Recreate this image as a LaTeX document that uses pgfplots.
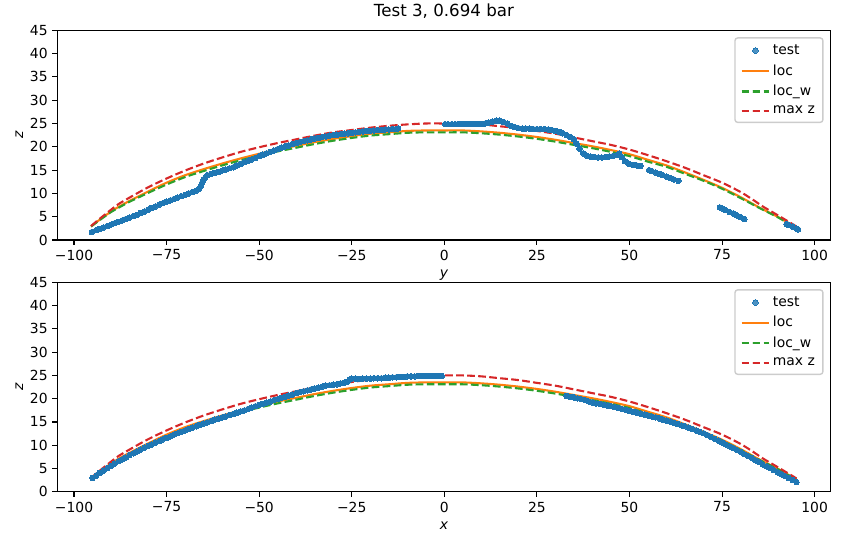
\documentclass[border=0pt]{standalone}
\usepackage{fontspec}
\setmainfont{DejaVu Sans}
\usepackage{pgfplots}
\usepackage{pgfplotstable}
\pgfplotsset{compat=1.18}
\definecolor{c0}{HTML}{1F77B4}
\definecolor{c1}{HTML}{FF7F0E}
\definecolor{c2}{HTML}{2CA02C}
\definecolor{c3}{HTML}{D62728}

\pgfplotstableread{
x z
-95.4 3.0
-93 4.6
-90 6.5
-88 7.7
-85 9.1
-80 11.3
-75 13.2
-70 14.9
-65 16.4
-60 17.7
-55 18.9
-50 19.9
-45 20.8
-40 21.6
-35 22.4
-30 23.1
-25 23.6
-20 24.1
-15 24.5
-10 24.8
-5 25.0
0 25.0
5 25.0
10 24.8
15 24.4
20 24.0
25 23.4
30 22.8
35 22.0
40 21.2
45 20.4
50 19.4
55 18.2
60 16.9
65 15.5
70 13.9
75 12.3
80 10.3
83.4 8.6
86 7.2
89 5.8
92.4 4.2
95.1 2.9
}\maxz

\pgfplotstableread{
x z
-95.4 2.9
-93 4.4
-90 6.1
-88 7.1
-85 8.4
-80 10.4
-75 12.3
-70 13.9
-65 15.2
-60 16.4
-55 17.5
-50 18.5
-45 19.4
-40 20.2
-35 21.0
-30 21.7
-25 22.3
-20 22.8
-15 23.1
-10 23.4
-5 23.5
0 23.5
5 23.5
10 23.3
15 23.0
20 22.6
25 22.1
30 21.5
35 20.8
40 20.1
45 19.3
50 18.4
55 17.2
60 16.0
65 14.5
70 12.9
75 11.2
80 9.2
85 7.0
90 5.0
92.4 3.9
95.1 2.7
}\loc

\pgfplotstableread{
x z
-95.4 2.9
-93 4.3
-90 6.0
-88 6.9
-85 8.2
-80 10.1
-75 11.9
-70 13.5
-65 14.8
-60 16.0
-55 17.1
-50 18.1
-45 19.0
-40 19.8
-35 20.6
-30 21.3
-25 21.9
-20 22.4
-15 22.7
-10 23.0
-5 23.1
0 23.1
5 23.1
10 22.9
15 22.6
20 22.2
25 21.7
30 21.1
35 20.4
40 19.7
45 18.9
50 18.0
55 16.8
60 15.7
65 14.2
70 12.7
75 11.0
80 9.0
85 6.9
90 4.9
92.4 3.8
95.1 2.7
}\locw

\pgfplotstableread{
x z
-95.2 1.7
-94 2.1
-93 2.4
-92 2.7
-91 3.0
-90 3.3
-89 3.6
-88 3.9
-87 4.2
-86 4.5
-85 4.8
-84 5.1
-83 5.4
-82 5.8
-81 6.1
-80 6.5
-79 6.9
-78 7.2
-77 7.6
-76 7.9
-75 8.2
-74 8.5
-73 8.8
-72 9.1
-71 9.4
-70 9.7
-69 10.0
-68 10.3
-67 10.6
-66.3 10.9
-65.8 11.5
-65.4 12.3
-65.0 12.9
-64.5 13.5
-64 13.9
-63 14.2
-62 14.4
-61 14.6
-60 14.9
-59 15.1
-58 15.4
-57 15.6
-56 16.0
-55 16.3
-54 16.7
-53 17.0
-52 17.3
-51 17.6
-50 18.0
-49 18.3
-48 18.6
-47 18.9
-46 19.2
-45 19.5
-44 19.8
-43 20.1
-42 20.3
-41 20.6
-40 20.8
-39 21.0
-38 21.2
-37 21.4
-36 21.6
-35 21.8
-34 21.9
-33 22.1
-32 22.2
-31 22.4
-30 22.5
-29 22.6
-28 22.7
-27 22.8
-26 22.9
-25 23.0
-24 23.1
-23 23.2
-22 23.3
-21 23.4
-20 23.4
-19 23.5
-18 23.6
-17 23.6
-16 23.7
-15 23.7
-14 23.8
-13 23.8
-12.5 23.9
0.2 24.85
1 24.85
2 24.85
3 24.85
4 24.9
5 24.9
6 24.9
7 24.9
8 24.9
9 24.9
10 24.9
11 25.0
12 25.2
13 25.4
14 25.6
15 25.6
16 25.3
17 25.0
18 24.5
19 24.2
20 24.0
21 23.9
22 23.9
23 23.9
24 23.8
25 23.8
26 23.8
27 23.8
28 23.7
29 23.6
30 23.4
31 23.2
32 22.9
33 22.5
34 22.1
35 21.6
35.7 20.7
36.5 19.6
37.5 18.6
38.5 18.1
39.5 17.9
40.5 17.8
41.5 17.7
42.5 17.7
43.5 17.8
44.5 17.9
45.5 18.0
46.5 18.2
47.2 18.5
47.9 17.8
48.8 16.9
49.7 16.4
51 16.1
52 16.0
53 15.9
55.3 15.0
56 14.8
57 14.5
58 14.2
59 13.9
60 13.6
61 13.3
62 13.0
63.2 12.7
74.4 7.0
75 6.8
76 6.4
77 6.0
78 5.7
79 5.3
80 4.9
81 4.5
92.4 3.4
93 3.2
94 2.9
95 2.5
95.5 2.3
}\testtop

\pgfplotstableread{
x z
-95.0 3.0
-94 3.5
-93 4.1
-92 4.6
-91 5.1
-90 5.6
-89 6.1
-88 6.6
-87 7.0
-86 7.4
-85 7.9
-84 8.3
-83 8.7
-82 9.1
-81 9.5
-80 9.9
-79 10.2
-78 10.6
-77 10.9
-76 11.3
-75 11.6
-74 11.9
-73 12.3
-72 12.6
-71 12.9
-70 13.2
-69 13.5
-68 13.8
-67 14.1
-66 14.4
-65 14.7
-64 14.9
-63 15.2
-62 15.5
-61 15.7
-60 16.0
-59 16.2
-58 16.5
-57 16.7
-56 17.0
-55 17.3
-54 17.5
-53 17.8
-52 18.1
-51 18.4
-50 18.7
-49 18.9
-48 19.2
-47 19.4
-46 19.7
-45 19.9
-44 20.2
-43 20.4
-42 20.7
-41 20.9
-40 21.2
-39 21.4
-38 21.6
-37 21.8
-36 22.0
-35 22.2
-34 22.4
-33 22.6
-32 22.8
-31 22.9
-30 23.0
-29 23.1
-28 23.3
-27 23.4
-26.3 23.6
-25.6 24.1
-25 24.3
-24 24.3
-23 24.2
-22 24.3
-21 24.3
-20 24.3
-19 24.4
-18 24.4
-17 24.4
-16 24.5
-15 24.5
-14 24.6
-13 24.6
-12 24.7
-11 24.7
-10 24.8
-9 24.8
-8 24.8
-7 24.9
-6 24.9
-5 24.9
-4 24.9
-3 24.9
-2 24.9
-1 24.9
-0.7 24.9
33 20.6
34 20.4
35 20.3
36 20.1
37 19.9
38 19.7
39 19.4
40 19.2
41 19.0
42 18.9
43 18.7
44 18.5
45 18.4
46 18.2
47 18.0
48 17.8
49 17.6
50 17.4
51 17.2
52 17.0
53 16.8
54 16.6
55 16.4
56 16.2
57 16.0
58 15.8
59 15.5
60 15.3
61 15.1
62 14.8
63 14.6
64 14.3
65 14.1
66 13.8
67 13.5
68 13.2
69 12.9
70 12.6
71 12.2
72 11.8
73 11.4
74 11.0
75 10.6
76 10.2
77 9.8
78 9.4
79 9.0
80 8.6
81 8.1
82 7.7
83 7.3
84 6.8
85 6.4
86 5.9
87 5.5
88 5.1
89 4.7
90 4.2
91 3.8
92 3.4
93 3.0
94 2.6
95.1 2.1
}\testbot

\pgfplotsset{
  myaxis/.style={
    scale only axis,
    width=556.7pt, height=151pt,
    xmin=-104.5, xmax=104.3,
    ymin=0, ymax=45,
    xtick={-100,-75,-50,-25,0,25,50,75,100},
    xticklabels={−100,−75,−50,−25,0,25,50,75,100},
    ytick={0,5,10,15,20,25,30,35,40,45},
    /pgf/number format/assume math mode=true,
    tick label style={font=\fontsize{10}{12}\selectfont},
    label style={font=\fontsize{10}{12}\selectfont},
    ylabel style={yshift=-2pt},
    tick align=outside, tick pos=left,
    major tick length=3.5pt,
    every tick/.style={black, line width=0.8pt},
    axis line style={line width=0.8pt},
    legend cell align=left,
    legend style={at={(1,1)}, anchor=north east, xshift=-5pt, yshift=-5pt,
      draw=black!20, line width=1pt, fill=white, fill opacity=0.8, text opacity=1,
      rounded corners=2pt, font=\fontsize{10}{11}\selectfont,
      inner xsep=4pt, inner ysep=3pt, row sep=2.2pt,
      nodes={inner sep=1.8pt}},
    legend image code/.code={\draw[mark repeat=2,mark phase=2,##1] plot coordinates {(0pt,0pt)(10pt,0pt)(20pt,0pt)};},
    testst/.style={only marks, mark=*, mark size=2pt, mark options={fill=c0, draw=c0, line width=0pt}},
    locst/.style={no marks, smooth, c1, line width=1.5pt},
    locwst/.style={no marks, smooth, c2, line width=1.5pt, dash pattern=on 5.55pt off 2.4pt},
    maxst/.style={no marks, smooth, c3, line width=1.5pt, dash pattern=on 5.55pt off 2.4pt},
  }
}

\begin{document}
\begin{tikzpicture}
\path[use as bounding box] (0,0) rectangle (606.24pt,392.4pt);
\begin{axis}[myaxis, at={(41.3pt,219.6pt)}, anchor=south west,
  title={Test 3, 0.694 bar}, title style={font=\fontsize{12}{14}\selectfont, yshift=-1pt},
  xlabel={\textit{y}}, ylabel={\textit{z}}]
\addplot[testst] table[x=x,y=z] {\testtop};
\addlegendentry{test}
\addplot[locst] table[x=x,y=z] {\loc};
\addlegendentry{loc}
\addplot[locwst] table[x=x,y=z] {\locw};
\addlegendentry{loc\_w}
\addplot[maxst] table[x=x,y=z] {\maxz};
\addlegendentry{max z}
\end{axis}
\begin{axis}[myaxis, at={(41.3pt,38.2pt)}, anchor=south west,
  xlabel={\textit{x}}, ylabel={\textit{z}}]
\addplot[testst] table[x=x,y=z] {\testbot};
\addlegendentry{test}
\addplot[locst] table[x=x,y=z] {\loc};
\addlegendentry{loc}
\addplot[locwst] table[x=x,y=z] {\locw};
\addlegendentry{loc\_w}
\addplot[maxst] table[x=x,y=z] {\maxz};
\addlegendentry{max z}
\end{axis}
\end{tikzpicture}
\end{document}
